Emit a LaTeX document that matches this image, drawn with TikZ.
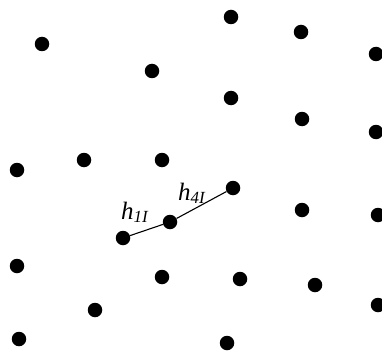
\documentclass[tikz,border=0pt]{standalone}
\usepackage{fontspec}
\setmainfont{Liberation Serif}
\newcommand{\hlab}[1]{h\raisebox{-3pt}{\fontsize{17}{17}\selectfont #1}}
\begin{document}
\begin{tikzpicture}[x=1pt,y=-1pt,
  dot/.style={circle,fill=black,inner sep=0pt,minimum size=14.5pt},
  lbl/.style={font=\fontsize{25}{27}\selectfont\itshape,inner sep=0pt,anchor=base west}]
\useasboundingbox (0,0) rectangle (382,350);
\foreach \n/\x/\y in {a/42/44, b/152/71, c/231/17, d/301/32, e/376/54, f/231/98, g/302/119, h/376/132, i/17/170, j/84/160, k/162/160, l/233/188, m/170/222, o/123/238, p/302/210, q/378/215, r/17/266, s/162/277, t/240/279, u/315/285, v/95/310, w/378/305, x/19/339, y/227/343}
  \node[dot] (\n) at (\x,\y) {};
\draw[line width=1.1pt] (o) -- (m) -- (l);
\node[lbl] (h1) at (121,219) {\hlab{1I}};
\node[lbl] (h4) at (178,200) {\hlab{4I}};
\end{tikzpicture}
\end{document}
